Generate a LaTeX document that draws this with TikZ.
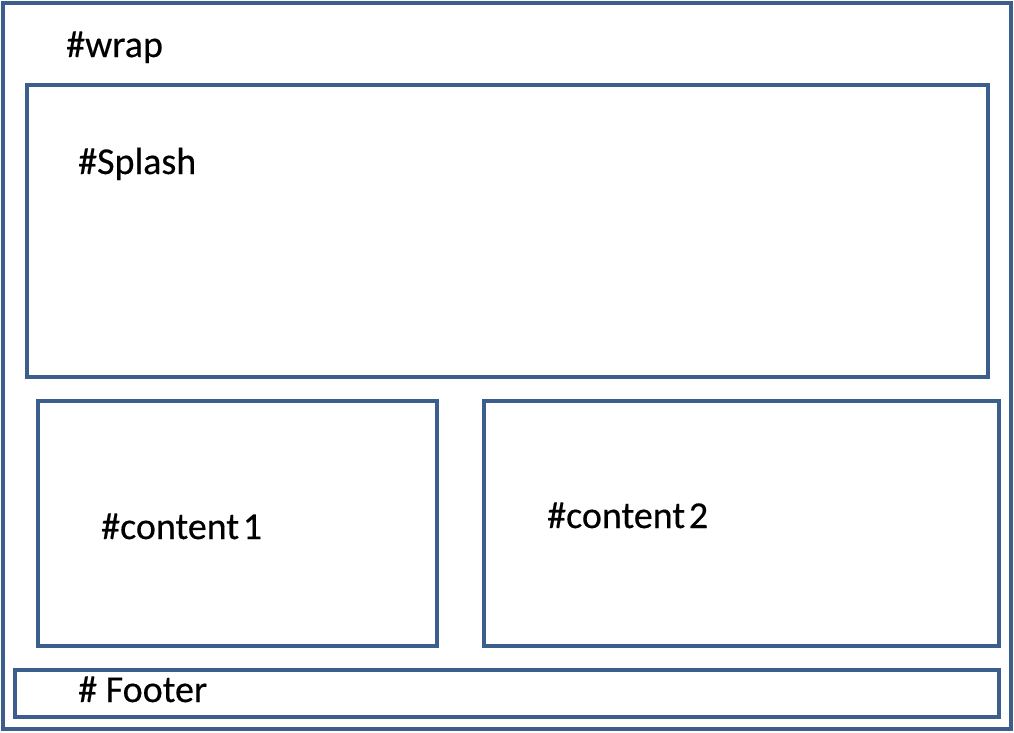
\documentclass[tikz,border=0pt]{standalone}
\usepackage{fontspec}
\setmainfont{Carlito}
\newfontfamily\lblfont[FakeBold=0.4]{Carlito}
\definecolor{boxblue}{HTML}{3B5E8C}
\begin{document}
\begin{tikzpicture}[x=1pt,y=-1pt,
  frame/.style={draw=boxblue,line width=3.6pt},
  lbl/.style={anchor=base west,inner sep=0pt,font=\lblfont\fontsize{38}{42}\selectfont}]
\useasboundingbox (0,0) rectangle (1014,732);
\draw[frame] (3,3) rectangle (1011,729);
\draw[frame] (27,85) rectangle (988,377);
\draw[frame] (38,401) rectangle (437,646);
\draw[frame] (484,401) rectangle (999,646);
\draw[frame] (15,670) rectangle (999,717);
\node[lbl] (wrap) at (66,57) {\#wrap};
\node[lbl] (splash) at (78,174) {\#Splash};
\node[lbl] (c1) at (101,539) {\#content\hspace{0.1em}1};
\node[lbl] (c2) at (547,528) {\#content\hspace{0.1em}2};
\node[lbl] (footer) at (78,702) {\# Footer};
\end{tikzpicture}
\end{document}
